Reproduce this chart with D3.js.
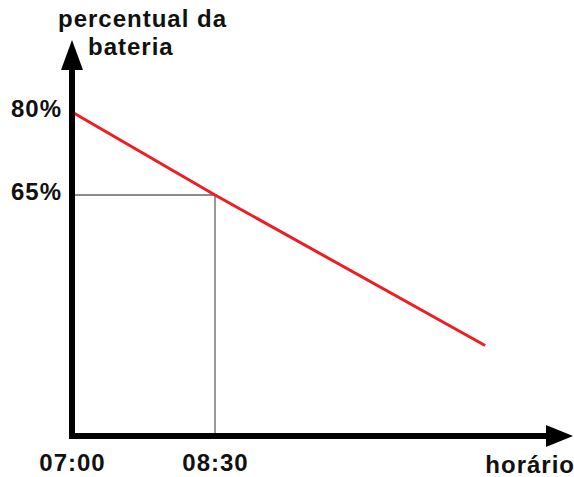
<!DOCTYPE html>
<html>
<head>
<meta charset="utf-8">
<script src="https://cdn.jsdelivr.net/npm/d3@7"></script>
<style>
  body { margin: 0; background: white; }
  text { font-family: "Liberation Sans", Arial, sans-serif; font-weight: bold; fill: #111; letter-spacing: 1px; }
</style>
</head>
<body>
<div id="container"></div>
<script>
// dados
var horarios = ["07:00", "08:30", "11:20"];
var bateria = [80, 65, 37.8];
var ticksY = [80, 65];
var ticksX = ["07:00", "08:30"];

function minutos(h) {
  var p = h.split(":");
  return (+p[0] - 7) * 60 + (+p[1]);
}

var svg = d3.select("#container").append("svg")
    .attr("width", 574)
    .attr("height", 477);

var x = d3.scaleLinear().domain([0, 90]).range([72, 215]);
var y = d3.scaleLinear().domain([65, 80]).range([195, 112]);
var baseY = 436;

var dados = horarios.map(function(h, i) { return { t: minutos(h), v: bateria[i] }; });

// linhas de referencia (08:30 -> 65%)
var ref = dados[1];
svg.append("line")
  .attr("x1", x(0)).attr("x2", x(ref.t))
  .attr("y1", y(ref.v)).attr("y2", y(ref.v))
  .attr("stroke", "#666").attr("stroke-width", 1.5);
svg.append("line")
  .attr("x1", x(ref.t)).attr("x2", x(ref.t))
  .attr("y1", y(ref.v)).attr("y2", baseY)
  .attr("stroke", "#999").attr("stroke-width", 2);

// linha vermelha
svg.append("path")
  .datum(dados)
  .attr("fill", "none")
  .attr("stroke", "#ee1d24")
  .attr("stroke-width", 3)
  .attr("d", d3.line().x(function(d) { return x(d.t); }).y(function(d) { return y(d.v); }));

// eixos com setas
svg.append("line")
  .attr("x1", x(0)).attr("x2", x(0))
  .attr("y1", baseY + 3).attr("y2", 66)
  .attr("stroke", "#000").attr("stroke-width", 6);
svg.append("path")
  .attr("d", "M" + (x(0) - 11) + ",70 L" + x(0) + ",40 L" + (x(0) + 11) + ",70 Z")
  .attr("fill", "#000");

svg.append("line")
  .attr("x1", x(0) - 3).attr("x2", 550)
  .attr("y1", baseY).attr("y2", baseY)
  .attr("stroke", "#000").attr("stroke-width", 6);
svg.append("path")
  .attr("d", "M546," + (baseY - 11) + " L573," + baseY + " L546," + (baseY + 11) + " Z")
  .attr("fill", "#000");

// rotulos dos eixos
var eixoY = d3.axisLeft(y).tickValues(ticksY).tickSize(0).tickPadding(10)
  .tickFormat(function(d) { return d + "%"; });
var gy = svg.append("g").attr("transform", "translate(" + x(0) + ",0)").call(eixoY);
gy.select(".domain").remove();
gy.selectAll("text").attr("font-size", 24).attr("dy", "0.2em")
  .style("font-family", "Liberation Sans, Arial, sans-serif").style("font-weight", "bold").attr("fill", "#111");

var eixoX = d3.axisBottom(x).tickValues(ticksX.map(minutos)).tickSize(0).tickPadding(18)
  .tickFormat(function(d, i) { return ticksX[i]; });
var gx = svg.append("g").attr("transform", "translate(0," + baseY + ")").call(eixoX);
gx.select(".domain").remove();
gx.selectAll("text").attr("font-size", 24)
  .style("font-family", "Liberation Sans, Arial, sans-serif").style("font-weight", "bold").attr("fill", "#111");

svg.append("text").attr("x", 58).attr("y", 27).attr("font-size", 24).text("percentual da");
svg.append("text").attr("x", 88).attr("y", 55).attr("font-size", 24).text("bateria");
svg.append("text").attr("x", 575).attr("y", 473).attr("text-anchor", "end").attr("font-size", 24).text("horário");
</script>
</body>
</html>
